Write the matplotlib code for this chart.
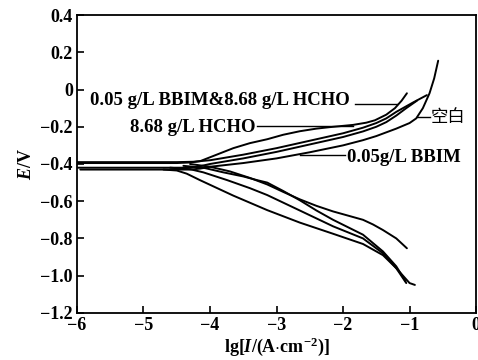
import matplotlib
matplotlib.use("Agg")
import matplotlib.pyplot as plt

plt.rcParams['font.family'] = ['Liberation Serif', 'Noto Sans CJK SC']
plt.rcParams['mathtext.fontset'] = 'custom'
plt.rcParams['mathtext.rm'] = 'Liberation Serif:bold'
plt.rcParams['mathtext.it'] = 'Liberation Serif:italic:bold'
plt.rcParams['mathtext.bf'] = 'Liberation Serif:bold'

# Anodic branches (lg I, E)
a1_x = [-6.0, -4.5, -4.3, -4.15, -3.9, -3.65, -3.4, -3.14, -2.9, -2.65, -2.4, -2.20, -1.85, -1.65, -1.52, -1.35, -1.22, -1.12, -1.04]
a1_e = [-0.395, -0.395, -0.392, -0.385, -0.350, -0.315, -0.288, -0.267, -0.243, -0.224, -0.210, -0.202, -0.19, -0.178, -0.165, -0.135, -0.10, -0.06, -0.02]
a2_x = [-6.0, -4.5, -4.25, -4.0, -3.5, -3.0, -2.5, -2.0, -1.7, -1.5, -1.35, -1.2, -1.05, -0.95, -0.74]
a2_e = [-0.39, -0.39, -0.388, -0.38, -0.35, -0.315, -0.275, -0.235, -0.205, -0.18, -0.155, -0.12, -0.09, -0.07, -0.03]
a3_x = [-6.0, -4.3, -4.15, -4.0, -3.5, -3.0, -2.5, -2.0, -1.7, -1.5, -1.35, -1.2, -1.05, -0.89]
a3_e = [-0.42, -0.42, -0.412, -0.40, -0.37, -0.335, -0.295, -0.255, -0.225, -0.20, -0.175, -0.14, -0.10, -0.06]
a4_x = [-5.95, -4.3, -4.15, -4.0, -3.5, -3.0, -2.5, -2.0, -1.7, -1.5, -1.2, -1.0, -0.9, -0.8, -0.7, -0.63, -0.57]
a4_e = [-0.43, -0.43, -0.425, -0.415, -0.395, -0.37, -0.337, -0.30, -0.272, -0.25, -0.21, -0.18, -0.155, -0.10, -0.02, 0.06, 0.155]

# Cathodic branches (lg I, E)
k1_x = [-4.7, -4.5, -4.35, -4.15, -3.65, -3.14, -2.65, -2.15, -1.70, -1.40, -1.2, -1.05]
k1_e = [-0.43, -0.435, -0.452, -0.487, -0.57, -0.648, -0.715, -0.775, -0.83, -0.89, -0.96, -1.04]
k2_x = [-4.6, -4.3, -4.1, -3.74, -3.4, -3.14, -2.65, -2.15, -1.70, -1.40, -1.15, -1.0, -0.92]
k2_e = [-0.42, -0.428, -0.445, -0.487, -0.53, -0.567, -0.65, -0.735, -0.80, -0.88, -0.98, -1.04, -1.05]
k3_x = [-4.4, -4.1, -3.8, -3.5, -3.29, -3.14, -2.9, -2.65, -2.4, -2.15, -1.70, -1.40, -1.2, -1.06]
k3_e = [-0.41, -0.42, -0.445, -0.467, -0.487, -0.50, -0.545, -0.595, -0.65, -0.70, -0.78, -0.87, -0.95, -1.03]
k4_x = [-4.3, -4.0, -3.7, -3.4, -3.14, -2.9, -2.65, -2.4, -2.15, -1.90, -1.70, -1.55, -1.40, -1.2, -1.04]
k4_e = [-0.40, -0.415, -0.44, -0.475, -0.51, -0.55, -0.59, -0.625, -0.655, -0.68, -0.70, -0.725, -0.755, -0.80, -0.853]

x_ticks = [-6, -5, -4, -3, -2, -1, 0]
x_tick_labels = ['\u22126', '\u22125', '\u22124', '\u22123', '\u22122', '\u22121', '0']
y_ticks = [0.4, 0.2, 0, -0.2, -0.4, -0.6, -0.8, -1.0, -1.2]
y_tick_labels = ['0.4', '0.2', '0', '\u22120.2', '\u22120.4', '\u22120.6', '\u22120.8', '\u22121.0', '\u22121.2']

labels = ['0.05 g/L BBIM&8.68 g/L HCHO', '8.68 g/L HCHO', '空白', '0.05g/L BBIM']

fig = plt.figure(figsize=(4.78, 3.6), dpi=100)
ax = fig.add_axes([0.161, 0.131, 0.835, 0.827])

for xs, es in [(a1_x, a1_e), (a2_x, a2_e), (a3_x, a3_e), (a4_x, a4_e),
               (k1_x, k1_e), (k2_x, k2_e), (k3_x, k3_e), (k4_x, k4_e)]:
    ax.plot(xs, es, color='black', lw=1.4, solid_capstyle='round', solid_joinstyle='round')

ax.set_xlim(-6, 0)
ax.set_ylim(-1.2, 0.4)
ax.set_xticks(x_ticks)
ax.set_xticklabels(x_tick_labels, fontsize=13, fontweight='bold')
ax.set_yticks(y_ticks)
ax.set_yticklabels(y_tick_labels, fontsize=13, fontweight='bold')
ax.tick_params(direction='in', length=5, width=1.2, pad=3)
for s in ax.spines.values():
    s.set_linewidth(1.3)

ax.set_xlabel(r'lg[$\mathit{I}$/(A$\cdot$cm$^{-2}$)]', fontsize=13, fontweight='bold', labelpad=1)
ax.set_ylabel(r'$\mathit{E}$/V', fontsize=13, fontweight='bold', labelpad=4)

tkw = dict(fontsize=13.5, fontweight='bold', va='center', ha='left')
ax.text(-5.80, -0.057, labels[0], **tkw)
ax.plot([-1.82, -1.19], [-0.078, -0.078], color='black', lw=1.0)
ax.text(-5.20, -0.202, labels[1], **tkw)
ax.plot([-3.29, -1.85], [-0.197, -0.197], color='black', lw=1.0)
ax.text(-0.69, -0.148, labels[2], fontsize=12.5, va='center', ha='left',
        family=['Noto Sans CJK SC'])
ax.plot([-0.89, -0.69], [-0.148, -0.148], color='black', lw=1.0)
ax.text(-1.94, -0.363, labels[3], **tkw)
ax.plot([-2.65, -1.97], [-0.352, -0.352], color='black', lw=1.0)

fig.savefig('out.png', dpi=100)
